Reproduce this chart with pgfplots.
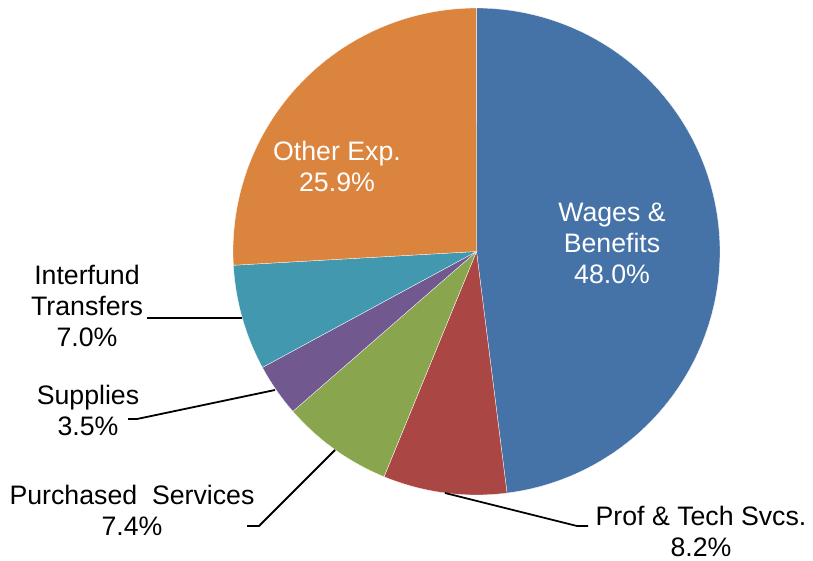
\documentclass[border=0pt]{standalone}
\usepackage{pgfplots}
\pgfplotsset{compat=1.18}
\usepackage{fontspec}
\setmainfont{Liberation Sans}
\definecolor{cwag}{HTML}{4572A7}
\definecolor{cpro}{HTML}{AA4643}
\definecolor{cpur}{HTML}{89A54E}
\definecolor{csup}{HTML}{71588F}
\definecolor{cint}{HTML}{4198AF}
\definecolor{coth}{HTML}{DB843D}
\def\cx{476.5}
\def\cy{309.5}
\def\R{243.5}
\tikzset{lbl/.style={font=\fontsize{26.7}{31}\selectfont, align=center, inner sep=0pt}}
% slice: cumulative start %, cumulative end %, colour
\newcommand\slice[3]{%
  \addplot[fill=#3, draw=white, line width=0.3pt, domain=#1:#2, samples=90, variable=\t]
    ({\cx+\R*cos(90-3.6*\t)},{\cy+\R*sin(90-3.6*\t)}) -- (axis cs:\cx,\cy) -- cycle;}
\begin{document}
\begin{tikzpicture}
\path[use as bounding box] (0,0) rectangle (813pt,561pt);
\begin{axis}[x=1pt, y=1pt, xmin=0, xmax=813, ymin=0, ymax=561,
  hide axis, clip=false, at={(0,0)}, anchor=origin]
% shares (%): Wages 48.0, Prof 8.2, Purchased 7.4, Supplies 3.5, Interfund 7.0, Other 25.9
\slice{0}{48.0}{cwag}
\slice{48.0}{56.2}{cpro}
\slice{56.2}{63.6}{cpur}
\slice{63.6}{67.1}{csup}
\slice{67.1}{74.1}{cint}
\slice{74.1}{100}{coth}
% leader lines
\addplot[black, line width=1.8pt] coordinates {(445,68) (577,35) (588,35)};
\addplot[black, line width=1.8pt] coordinates {(335,111) (259,35) (247,35)};
\addplot[black, line width=1.8pt] coordinates {(275,171) (137,142) (128,142)};
\addplot[black, line width=1.8pt] coordinates {(242,243) (147,243)};
% labels
\node[lbl, text=white] at (axis cs:612,318) {Wages \&\\Benefits\\48.0\%};
\node[lbl, text=white] at (axis cs:337,395) {Other Exp.\\25.9\%};
\node[lbl] at (axis cs:87,255) {Interfund\\Transfers\\7.0\%};
\node[lbl] at (axis cs:88,151) {Supplies\\3.5\%};
\node[lbl] at (axis cs:132,51) {Purchased~~Services\\7.4\%};
\node[lbl] at (axis cs:701,30) {Prof \& Tech Svcs.\\8.2\%};
\end{axis}
\end{tikzpicture}
\end{document}
